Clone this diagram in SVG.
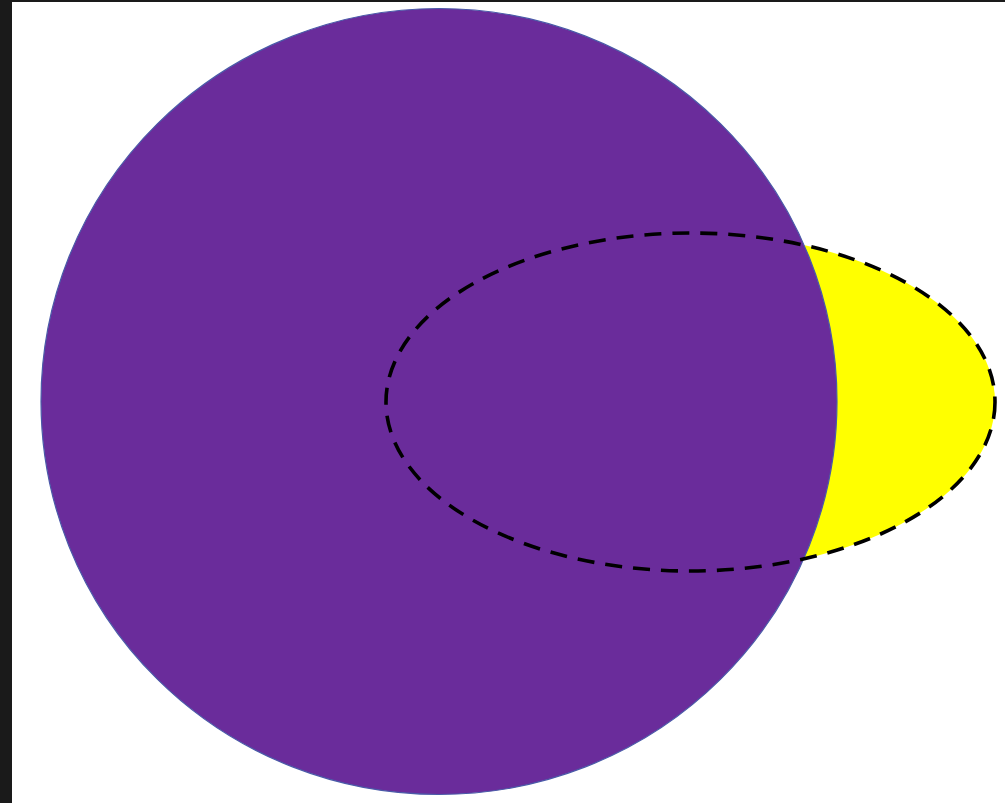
<svg xmlns="http://www.w3.org/2000/svg" width="1005" height="803" viewBox="0 0 1005 803">
<style>
.bg{fill:#ffffff}
.frame{fill:#1a1a1a}
.big{fill:#6a2c9b;stroke:#4a5aa8;stroke-width:1.2}
.fillY{fill:#ffff00;stroke:none}
.dash{fill:none;stroke:#000000;stroke-width:3.6;stroke-dasharray:17 11}
</style>
<rect class="bg" x="0" y="0" width="1005" height="803"/>
<rect class="frame" x="0" y="0" width="12" height="803"/>
<rect class="frame" x="0" y="0" width="1005" height="2"/>
<g id="ellipse-fill"><ellipse class="fillY" cx="690.5" cy="402" rx="304.5" ry="169"/></g>
<g id="circle"><ellipse class="big" cx="439" cy="401.5" rx="398" ry="393"/></g>
<g id="ellipse"><ellipse class="dash" cx="690.5" cy="402" rx="304.5" ry="169"/></g>
</svg>
